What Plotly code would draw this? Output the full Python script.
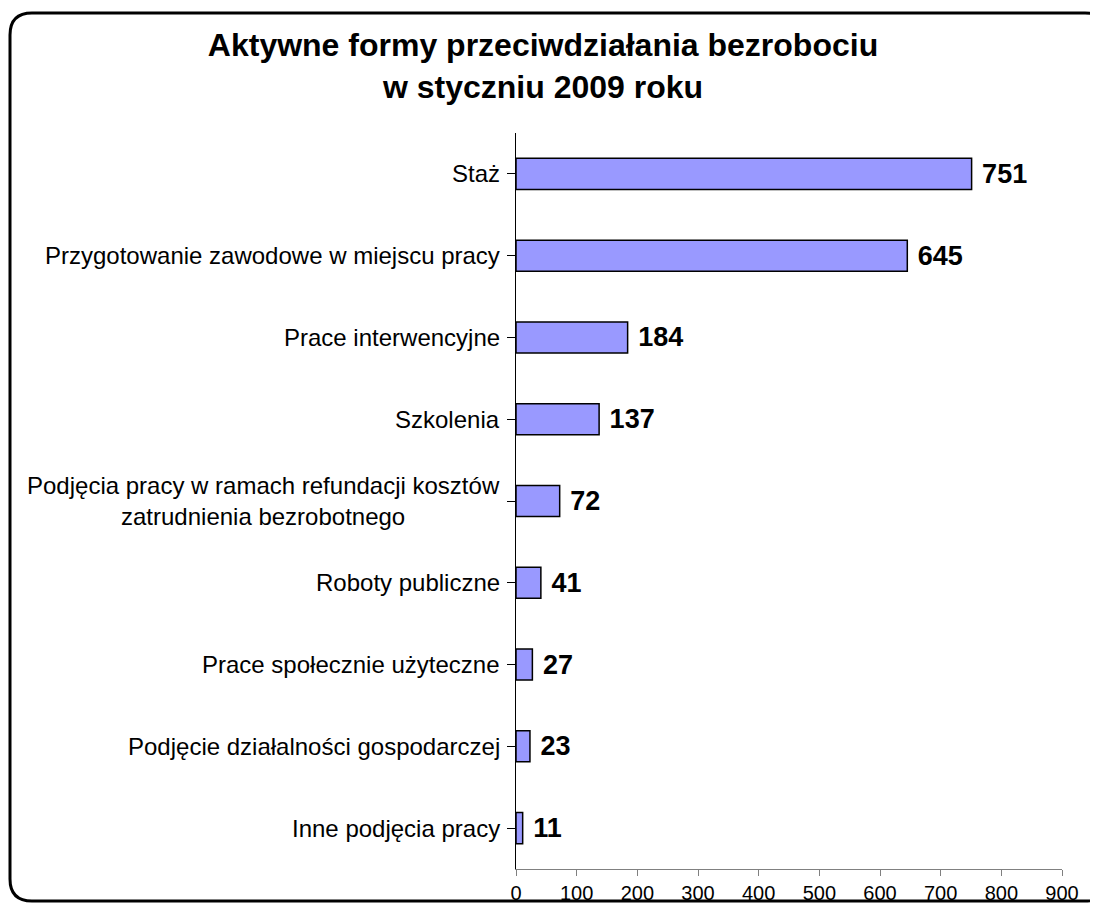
import plotly.graph_objects as go

categories = [
    "Staż",
    "Przygotowanie zawodowe w miejscu pracy",
    "Prace interwencyjne",
    "Szkolenia",
    "Podjęcia pracy w ramach refundacji kosztów<br>zatrudnienia bezrobotnego",
    "Roboty publiczne",
    "Prace społecznie użyteczne",
    "Podjęcie działalności gospodarczej",
    "Inne podjęcia pracy",
]
values = [751, 645, 184, 137, 72, 41, 27, 23, 11]
x_ticks = [0, 100, 200, 300, 400, 500, 600, 700, 800, 900]
title_text = "Aktywne formy przeciwdziałania bezrobociu<br>w styczniu 2009 roku"

# page body has an 8px margin, so the figure is sized to fill the rest
OFF = 8
W, H = 1098 - OFF, 903 - OFF
ML, MR, MT, MB = 516 - OFF, 36, 133 - OFF, 34
PW, PH = W - ML - MR, H - MT - MB

FONT = "Liberation Sans, Arial, sans-serif"

fig = go.Figure()
fig.add_trace(go.Bar(
    y=list(range(len(categories))),
    x=values,
    orientation="h",
    marker=dict(color="#9999FF", line=dict(color="black", width=1.5)),
    text=values,
    texttemplate=" %{x}",
    textposition="outside",
    textfont=dict(family=FONT, size=27, color="black", weight="bold"),
    cliponaxis=False,
    hoverinfo="skip",
))

annotations = []
for i, c in enumerate(categories):
    annotations.append(dict(
        x=0, xref="paper", y=i, yref="y",
        text=c, showarrow=False, xanchor="right", yanchor="middle",
        align="center", xshift=-14,
        font=dict(family=FONT, size=24, color="black"),
    ))


def px2x(px):
    return (px - OFF - ML) / PW


def py2y(py):
    return (H - MB - (py - OFF)) / PH


# rounded border (screen pixel coordinates)
L, T, R, B, r = 10, 13, 1107, 901, 22
path = (
    f"M {px2x(L)},{py2y(T + r)} "
    f"Q {px2x(L)},{py2y(T)} {px2x(L + r)},{py2y(T)} "
    f"L {px2x(R - r)},{py2y(T)} "
    f"Q {px2x(R)},{py2y(T)} {px2x(R)},{py2y(T + r)} "
    f"L {px2x(R)},{py2y(B - r)} "
    f"Q {px2x(R)},{py2y(B)} {px2x(R - r)},{py2y(B)} "
    f"L {px2x(L + r)},{py2y(B)} "
    f"Q {px2x(L)},{py2y(B)} {px2x(L)},{py2y(B - r)} Z"
)

fig.update_layout(
    width=W, height=H,
    margin=dict(l=ML, r=MR, t=MT, b=MB, autoexpand=False),
    paper_bgcolor="white", plot_bgcolor="white",
    bargap=0.62,
    showlegend=False,
    title=dict(
        text=title_text, x=(543 - OFF) / W, xanchor="center",
        y=1 - 48 / H, yanchor="middle",
        font=dict(family=FONT, size=32, color="black", weight="bold"),
    ),
    annotations=annotations,
    shapes=[dict(type="path", path=path, xref="paper", yref="paper",
                 line=dict(color="black", width=3), layer="above")],
    xaxis=dict(
        range=[0, 900], tickvals=x_ticks, ticktext=[str(v) for v in x_ticks],
        showgrid=False, zeroline=False, automargin=False,
        showline=True, linecolor="#808080", linewidth=1,
        ticks="outside", ticklen=6, tickcolor="#808080",
        tickfont=dict(family=FONT, size=20, color="black"),
        fixedrange=True,
    ),
    yaxis=dict(
        range=[len(categories) - 0.5, -0.5],
        tickvals=list(range(len(categories))),
        ticktext=[""] * len(categories),
        tickson="boundaries",
        showgrid=False, zeroline=False, automargin=False,
        showline=True, linecolor="black", linewidth=1,
        ticks="outside", ticklen=8, tickcolor="black",
        fixedrange=True,
    ),
)

fig.write_html("out.html")
